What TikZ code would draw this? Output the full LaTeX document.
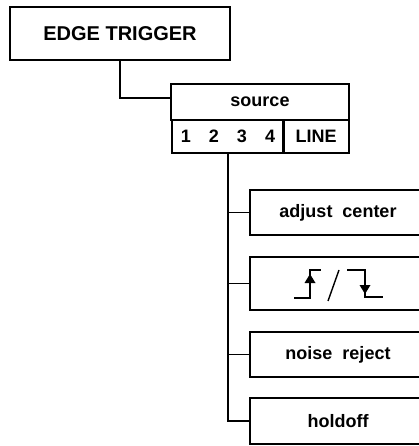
\documentclass[tikz,border=0pt]{standalone}
\usepackage{fontspec}
\setmainfont{Liberation Sans}
\begin{document}
\begin{tikzpicture}[x=1pt,y=-1pt,
  box/.style={draw,line width=1.4pt,rectangle,inner sep=0pt,anchor=center},
  conn/.style={line width=1.4pt},
  sym/.style={line width=1.4pt},
  lbl/.style={font=\bfseries\fontsize{18}{20}\selectfont}]
\useasboundingbox (0,0) rectangle (419,446);
\clip (0,0) rectangle (419,446);
\node[box,minimum width=220pt,minimum height=53pt,font=\bfseries\fontsize{20}{22}\selectfont] (edge) at (120,33.5) {EDGE TRIGGER};
\node[box,lbl,minimum width=178pt,minimum height=36pt] (src) at (260,102) {source};
\node[box,lbl,minimum width=112pt,minimum height=33pt] (nums) at (228,136.5) {1\quad2\quad3\quad4};
\node[box,lbl,minimum width=66pt,minimum height=33pt] (line) at (316,136.5) {LINE};
\node[box,lbl,minimum width=176pt,minimum height=45pt] (adj) at (338,212.5) {adjust\ \ center};
\node[box,minimum width=176pt,minimum height=53pt] (slope) at (338,283.5) {};
\node[box,lbl,minimum width=176pt,minimum height=45pt] (noise) at (338,354.5) {noise\ \ reject};
\node[box,lbl,minimum width=176pt,minimum height=46pt] (hold) at (338,421) {holdoff};
\coordinate (j1) at (171,98);
\draw[conn] (edge.south) |- (j1);
\draw[conn] (nums.south) |- (hold.west);
\draw[conn] (nums.south |- adj.west) -- (adj.west);
\draw[conn] (nums.south |- slope.west) -- (slope.west);
\draw[conn] (nums.south |- noise.west) -- (noise.west);
% edge symbols
\draw[sym] (294,298) -- (310,298) -- (310,270) -- (321,270);
\fill (304.5,283) -- (315.5,283) -- (310,274) -- cycle;
\draw[sym] (328,301) -- (339,270);
\draw[sym] (347,270) -- (365,270) -- (365,297) -- (383,297);
\fill (359.5,285) -- (370.5,285) -- (365,294) -- cycle;
\end{tikzpicture}
\end{document}
